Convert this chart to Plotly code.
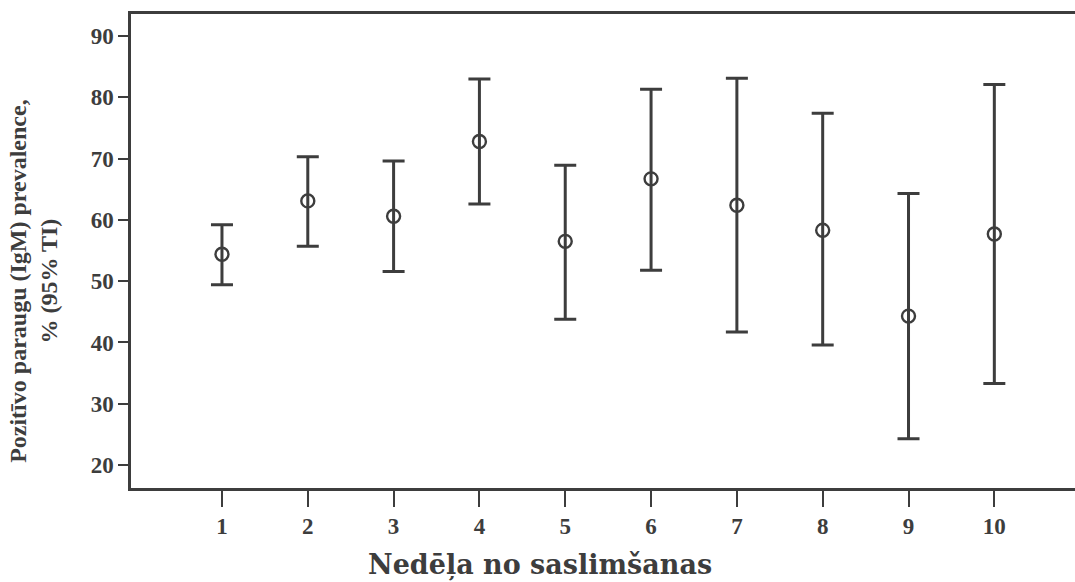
import plotly.graph_objects as go

weeks = [1, 2, 3, 4, 5, 6, 7, 8, 9, 10]
prevalence = [54.4, 63.1, 60.6, 72.8, 56.5, 66.7, 62.4, 58.3, 44.3, 57.7]
ci_upper = [59.2, 70.3, 69.6, 83.0, 68.9, 81.3, 83.1, 77.4, 64.3, 82.1]
ci_lower = [49.4, 55.7, 51.6, 62.6, 43.8, 51.8, 41.7, 39.6, 24.3, 33.3]
x_tick_labels = [str(w) for w in weeks]
y_ticks = [20, 30, 40, 50, 60, 70, 80, 90]

ink = "#3d3d3d"
serif = "Liberation Serif"
wide_serif = "DejaVu Serif"

err_plus = [u - m for u, m in zip(ci_upper, prevalence)]
err_minus = [m - l for m, l in zip(prevalence, ci_lower)]

fig = go.Figure()
fig.add_trace(go.Scatter(
    x=weeks, y=prevalence, mode="markers",
    marker=dict(symbol="circle-open", size=13, color=ink, line=dict(width=2.4, color=ink)),
    error_y=dict(type="data", symmetric=False, array=err_plus, arrayminus=err_minus,
                 color=ink, thickness=3, width=11),
    showlegend=False,
))

fig.update_layout(
    width=1075, height=582,
    margin=dict(l=131, r=0, t=14, b=94),
    paper_bgcolor="white", plot_bgcolor="white",
    font=dict(family=serif, color=ink, size=20),
    xaxis=dict(
        range=[-0.06, 10.94], tickmode="array", tickvals=weeks, ticktext=x_tick_labels,
        showgrid=False, zeroline=False, showline=True, linecolor=ink, linewidth=2.5,
        mirror=True, ticks="outside", ticklen=16, tickwidth=2, tickcolor=ink,
        tickfont=dict(family=serif, size=23, color=ink, weight="bold"),
    ),
    yaxis=dict(
        range=[16.25, 93.6], tickmode="array", tickvals=y_ticks,
        showgrid=False, zeroline=False, showline=True, linecolor=ink, linewidth=2.5,
        ticks="outside", ticklen=10, tickwidth=2, tickcolor=ink,
        tickfont=dict(family=serif, size=23, color=ink, weight="bold"),
    ),
    annotations=[
        dict(
            text="<b>Pozitīvo paraugu (IgM) prevalence,<br>% (95% TI)</b>",
            xref="paper", yref="paper", x=0, y=0.437, xanchor="center", yanchor="middle",
            xshift=-97, textangle=-90, showarrow=False,
            font=dict(family=serif, size=24, color=ink),
        ),
        dict(
            text="<b>Nedēļa no saslimšanas</b>",
            xref="paper", yref="paper", x=0.4333, y=0, xanchor="center", yanchor="middle",
            yshift=-77, showarrow=False,
            font=dict(family=wide_serif, size=27, color=ink),
        ),
    ],
)

fig.write_html("out.html")
